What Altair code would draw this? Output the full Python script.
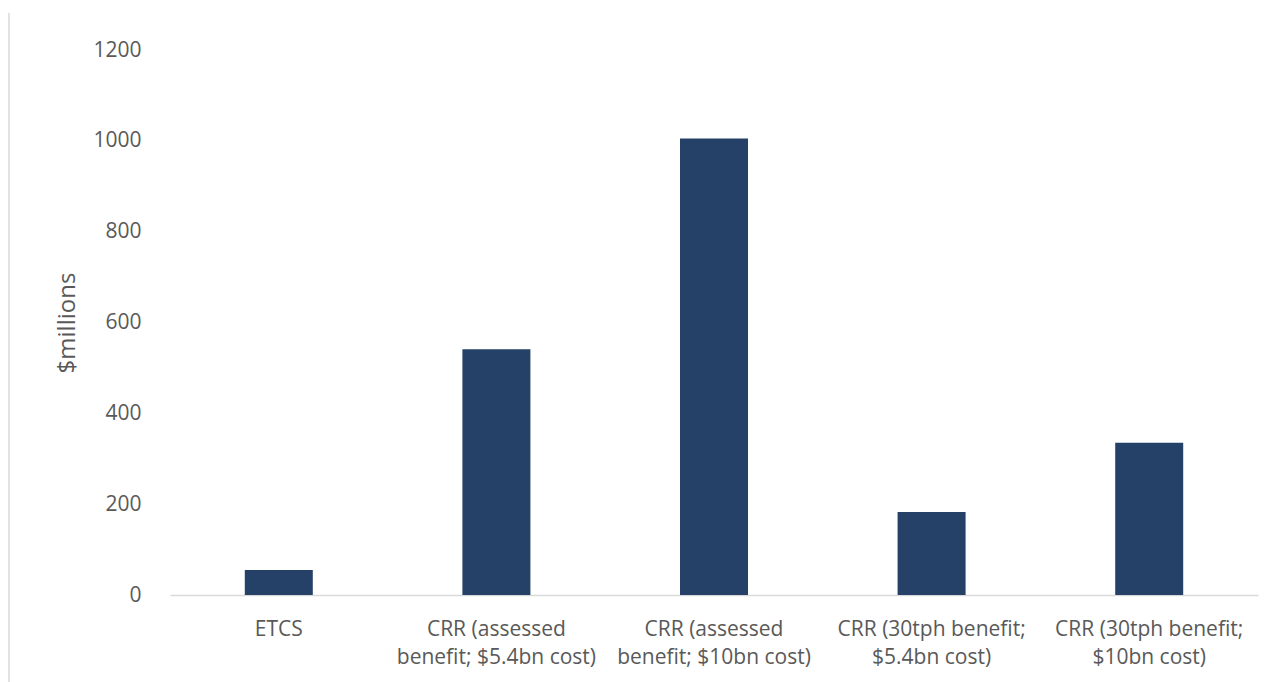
import altair as alt
import pandas as pd

# Categories (each label split into its display lines) and values in $ millions
label_lines = [
    ["ETCS"],
    ["CRR (assessed", "benefit; $5.4bn cost)"],
    ["CRR (assessed", "benefit; $10bn cost)"],
    ["CRR (30tph benefit;", "$5.4bn cost)"],
    ["CRR (30tph benefit;", "$10bn cost)"],
]
values = [55, 541, 1005, 183, 335]

categories = ["\n".join(lines) for lines in label_lines]
df = pd.DataFrame({"category": categories, "value": values})

TEXT = "#595959"
FONT = "Open Sans"

bars = alt.Chart(df).mark_bar(size=68, color="#264167").encode(
    x=alt.X(
        "category:N",
        sort=categories,
        scale=alt.Scale(paddingInner=0, paddingOuter=0),
        axis=alt.Axis(
            title=None,
            labelAngle=0,
            labelExpr="split(datum.label, '\\n')",
            labelFontSize=21,
            labelLineHeight=28,
            labelColor=TEXT,
            labelFont=FONT,
            labelBaseline="top",
            labelPadding=23,
            ticks=False,
            domainColor="#d9d9d9",
            domainWidth=1.5,
            labelLimit=300,
        ),
    ),
    y=alt.Y(
        "value:Q",
        scale=alt.Scale(domain=[0, 1200]),
        axis=alt.Axis(
            title="$millions",
            values=[0, 200, 400, 600, 800, 1000, 1200],
            format="d",
            grid=False,
            domain=False,
            ticks=False,
            labelFontSize=21,
            labelColor=TEXT,
            labelFont=FONT,
            labelPadding=29,
            titleFontSize=24,
            titleFontWeight="normal",
            titleColor=TEXT,
            titleFont=FONT,
            titlePadding=13,
        ),
    ),
)

# thin grey frame edge on the left
edge = alt.Chart(df).mark_rule(color="#e2e2e2", strokeWidth=1.5).encode(
    x=alt.value(-161), y=alt.value(-37), y2=alt.value(640)
)

chart = (
    alt.layer(edge, bars)
    .properties(
        width=1088,
        height=545,
        autosize=alt.AutoSizeParams(type="none"),
        padding={"left": 170, "top": 50, "right": 23, "bottom": 87},
        view=alt.ViewBackground(stroke="transparent", strokeWidth=0),
    )
    .configure_view(stroke="transparent", strokeWidth=0)
    .configure(background="white")
)

chart.save("out.html", embed_options={"renderer": "svg", "actions": False})
